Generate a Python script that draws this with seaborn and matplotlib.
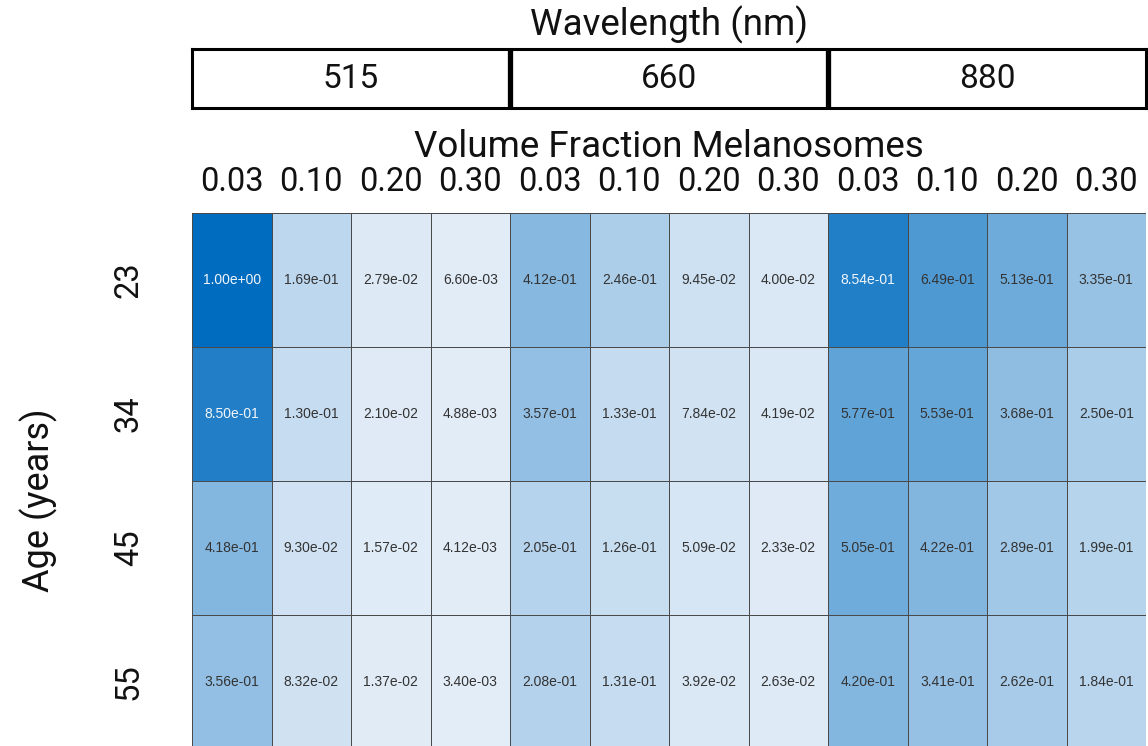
import numpy as np
import pandas as pd
import matplotlib
matplotlib.use("Agg")
import matplotlib.pyplot as plt
from matplotlib.colors import LinearSegmentedColormap
import seaborn as sns

# ---- data ----
ages = ["23", "34", "45", "55"]
wavelengths = ["515", "660", "880"]
fractions = ["0.03", "0.10", "0.20", "0.30"]

w515 = [[1.00e+00, 1.69e-01, 2.79e-02, 6.60e-03],
        [8.50e-01, 1.30e-01, 2.10e-02, 4.88e-03],
        [4.18e-01, 9.30e-02, 1.57e-02, 4.12e-03],
        [3.56e-01, 8.32e-02, 1.37e-02, 3.40e-03]]
w660 = [[4.12e-01, 2.46e-01, 9.45e-02, 4.00e-02],
        [3.57e-01, 1.33e-01, 7.84e-02, 4.19e-02],
        [2.05e-01, 1.26e-01, 5.09e-02, 2.33e-02],
        [2.08e-01, 1.31e-01, 3.92e-02, 2.63e-02]]
w880 = [[8.54e-01, 6.49e-01, 5.13e-01, 3.35e-01],
        [5.77e-01, 5.53e-01, 3.68e-01, 2.50e-01],
        [5.05e-01, 4.22e-01, 2.89e-01, 1.99e-01],
        [4.20e-01, 3.41e-01, 2.62e-01, 1.84e-01]]

values = np.hstack([np.array(w515), np.array(w660), np.array(w880)])
columns = pd.MultiIndex.from_product([wavelengths, fractions])
df = pd.DataFrame(values, index=ages, columns=columns)

# ---- style ----
sns.set_theme(style="white")
plt.rcParams["font.family"] = ["Roboto", "DejaVu Sans"]

W, H = 1148, 746
fig = plt.figure(figsize=(W / 100, H / 100), dpi=100)

def fx(px):
    return px / W

def fy(py):
    return 1 - py / H

left, right = 192, 1146
ax = fig.add_axes([fx(left), fy(749), fx(right - left), fy(213) - fy(749)])

cmap = LinearSegmentedColormap.from_list("blu", ["#e3edf7", "#006cbf"])
sns.heatmap(df.values, ax=ax, cmap=cmap, vmin=0, vmax=1, cbar=False,
            annot=True, fmt=".2e",
            annot_kws={"fontsize": 10, "family": "Liberation Sans"},
            linewidths=0.7, linecolor="#4a4a4a",
            xticklabels=[f for _ in wavelengths for f in fractions],
            yticklabels=ages)

for t, v in zip(ax.texts, df.values.flatten()):
    t.set_color("#f2f6fb" if v > 0.8 else "#333333")

ax.xaxis.tick_top()
ax.xaxis.set_label_position("top")
ax.tick_params(axis="x", length=0, pad=11, labelsize=23.5)
ax.tick_params(axis="y", length=0, pad=34, labelsize=23.5)
plt.setp(ax.get_xticklabels(), rotation=0)
plt.setp(ax.get_yticklabels(), rotation=90, va="center")
ax.set_xlabel("Volume Fraction Melanosomes", fontsize=26.5, labelpad=6, color="#111111")
ax.set_ylabel("Age (years)", fontsize=26, color="#111111")
ax.yaxis.set_label_coords(-0.1405, 0.465)
for lab in ax.get_xticklabels() + ax.get_yticklabels():
    lab.set_color("#111111")

# ---- wavelength header box ----
bx = fig.add_axes([fx(left), fy(108), fx(right - left), fy(49) - fy(108)])
bx.set_xlim(0, len(wavelengths) * len(fractions))
bx.set_ylim(0, 1)
bx.set_xticks([])
bx.set_yticks([])
for s in bx.spines.values():
    s.set_visible(True)
    s.set_linewidth(2.2)
    s.set_color("black")
n = len(fractions)
for i, wl in enumerate(wavelengths):
    bx.text(i * n + n / 2, 0.5, wl, ha="center", va="center", fontsize=24, color="#111111")
    if i > 0:
        bx.axvline(i * n, color="black", lw=3.8)
bx.set_title("Wavelength (nm)", fontsize=26.5, pad=10, color="#111111")

fig.savefig("out.png", dpi=100)
